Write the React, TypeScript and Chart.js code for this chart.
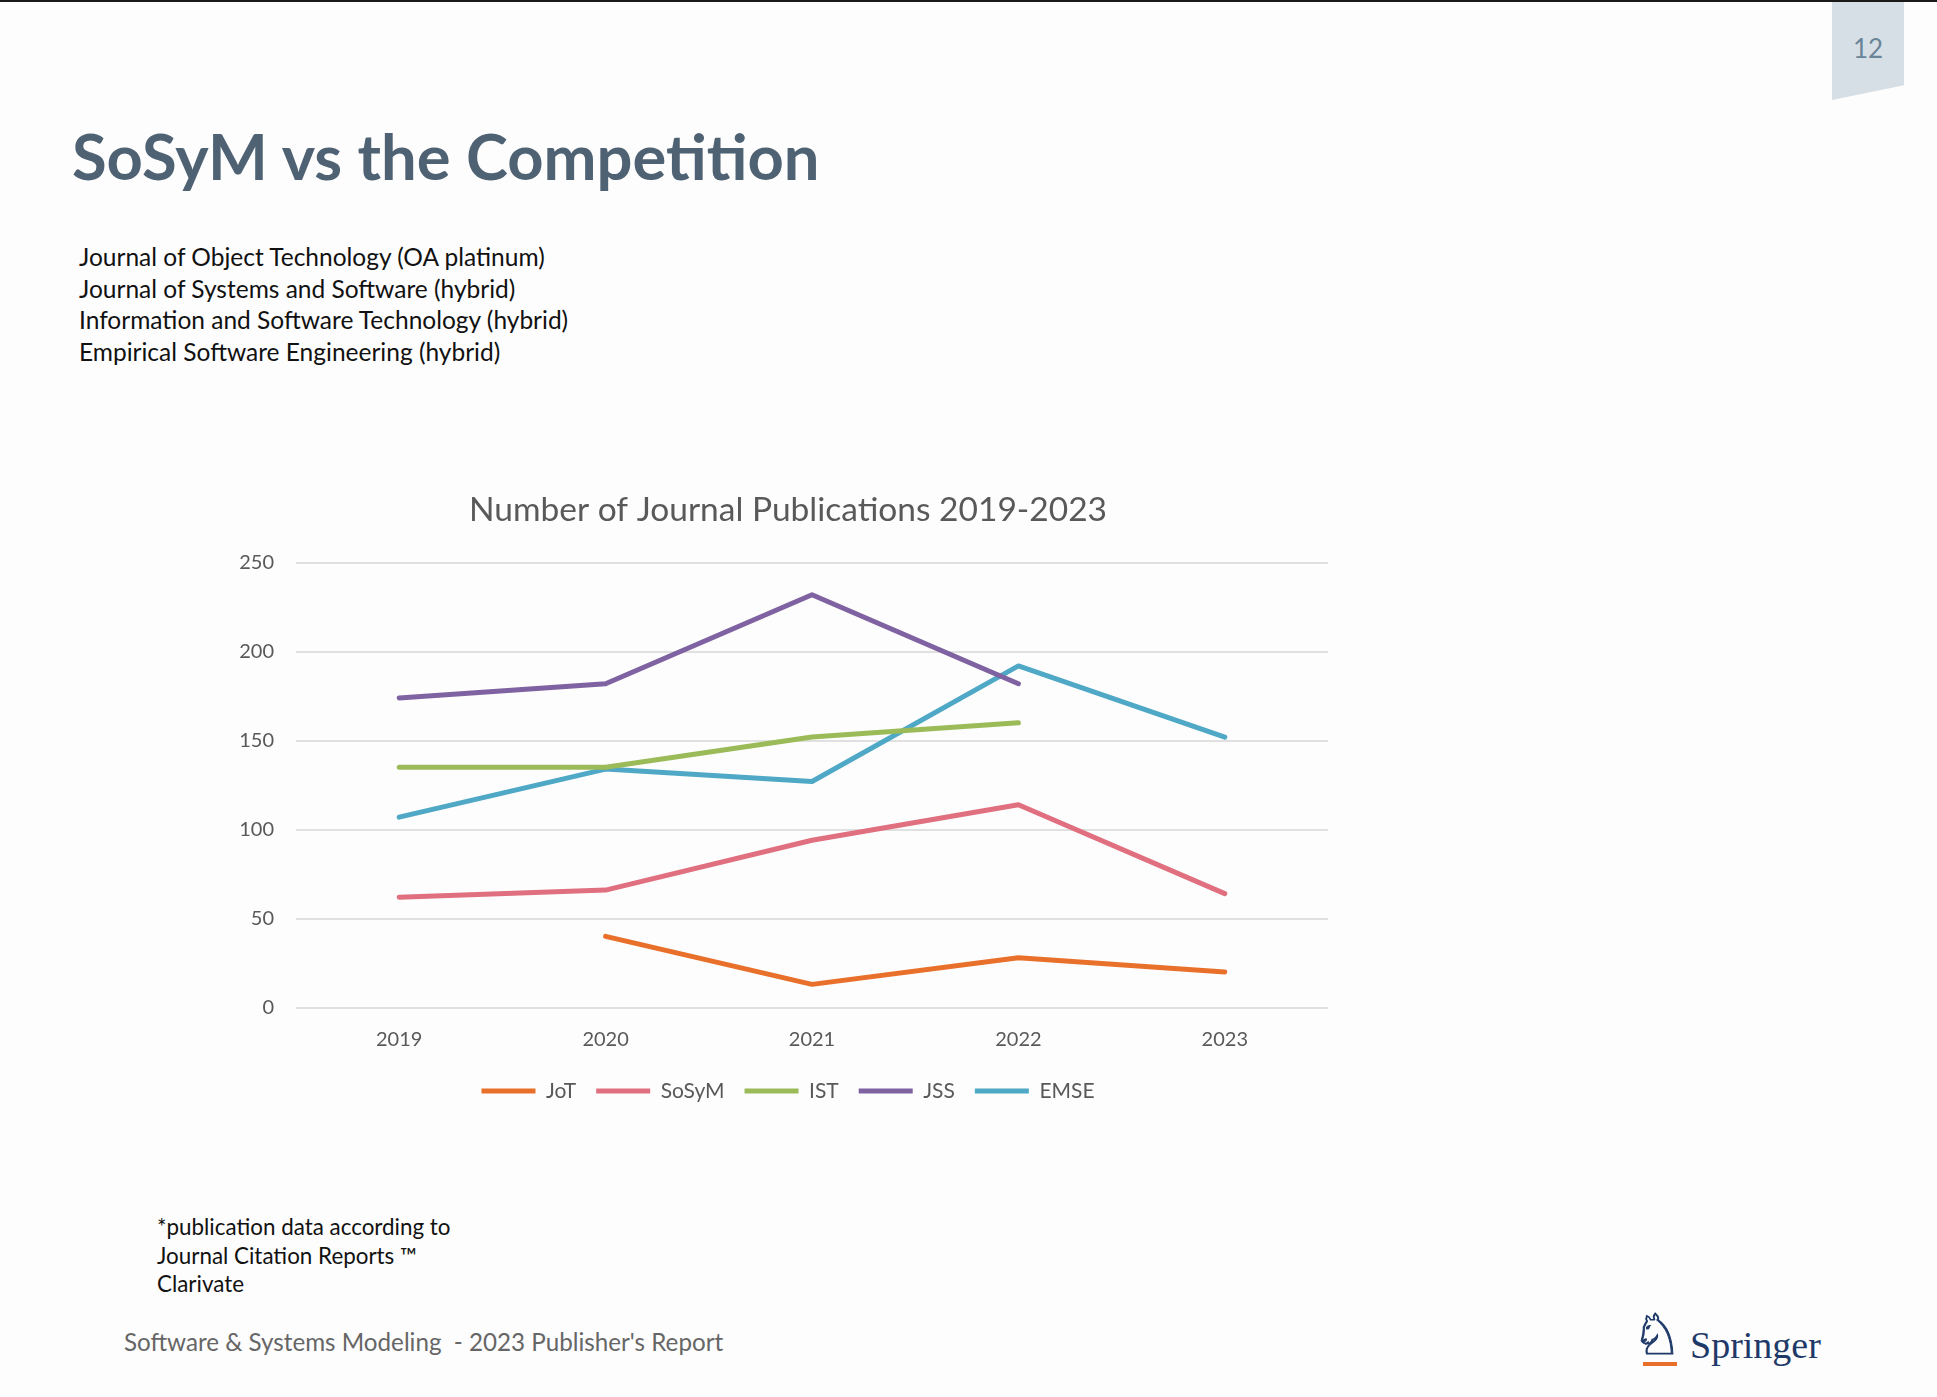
import React, { useEffect, useRef } from 'react';
import { Chart, registerables } from 'chart.js';

Chart.register(...registerables);

const years = ['2019', '2020', '2021', '2022', '2023'];
const seriesNames = ['JoT', 'SoSyM', 'IST', 'JSS', 'EMSE'];
const jotValues = [null, 40, 13, 28, 20];
const sosymValues = [62, 66, 94, 114, 64];
const istValues = [135, 135, 152, 160, null];
const jssValues = [174, 182, 232, 182, null];
const emseValues = [107, 134, 127, 192, 152];
const seriesColors = ['#E8702A', '#E0707F', '#9BBB59', '#7F62A1', '#4FA8C5'];
const yMin = 0;
const yMax = 250;
const yStep = 50;

const chartTitle = 'Number of Journal Publications 2019-2023';
const slideTitle = 'SoSyM vs the Competition';
const journals = [
  'Journal of Object Technology (OA platinum)',
  'Journal of Systems and Software (hybrid)',
  'Information and Software Technology (hybrid)',
  'Empirical Software Engineering (hybrid)',
];
const footnote = ['*publication data according to', 'Journal Citation Reports \u2122', 'Clarivate'];
const footer = "Software & Systems Modeling  - 2023 Publisher's Report";
const pageNumber = '12';

const FONT = 'Lato, "Open Sans", sans-serif';

function LineChart() {
  const ref = useRef<HTMLCanvasElement | null>(null);
  useEffect(() => {
    if (!ref.current) return;
    const allValues = [jotValues, sosymValues, istValues, jssValues, emseValues];
    const chart = new Chart(ref.current, {
      type: 'line',
      data: {
        labels: years,
        datasets: seriesNames.map((name, i) => ({
          label: name,
          data: allValues[i],
          borderColor: seriesColors[i],
          backgroundColor: seriesColors[i],
          borderWidth: 5,
          borderCapStyle: 'round',
          borderJoinStyle: 'round',
          pointRadius: 0,
          pointHoverRadius: 0,
          tension: 0,
          spanGaps: false,
          fill: false,
          yAxisID: 'y',
        })),
      },
      options: {
        animation: false,
        responsive: false,
        devicePixelRatio: 1,
        layout: { padding: { top: 20, bottom: 18.5, left: 0, right: 0 } },
        font: { family: FONT },
        plugins: {
          tooltip: { enabled: false },
          title: {
            display: true,
            text: chartTitle,
            color: '#595959',
            font: { family: FONT, size: 33.5, weight: 'normal' },
            padding: { top: 0, bottom: 32.5 },
          },
          legend: {
            position: 'bottom',
            labels: {
              usePointStyle: true,
              pointStyle: 'line',
              pointStyleWidth: 54,
              boxHeight: 21,
              padding: 20,
              color: '#595959',
              font: { family: FONT, size: 21 },
            },
          },
        },
        scales: {
          x: {
            offset: true,
            grid: { display: false, drawTicks: false },
            border: { display: false },
            ticks: { color: '#595959', font: { family: FONT, size: 20 }, padding: 20 },
            afterFit: (s: any) => { s.height = 53; },
          },
          y: {
            position: 'left',
            min: yMin,
            max: yMax,
            ticks: { stepSize: yStep, color: '#595959', font: { family: FONT, size: 20 }, padding: 22 },
            grid: { color: '#E0E0E0', lineWidth: 2, drawTicks: false },
            border: { display: false },
            afterFit: (s: any) => { s.width = 96; },
          },
          yRight: {
            position: 'right',
            display: true,
            ticks: { display: false },
            grid: { display: false, drawTicks: false },
            border: { display: false },
            afterFit: (s: any) => { s.width = 48; },
          },
        },
      } as any,
    });
    return () => chart.destroy();
  }, []);
  return (
    <canvas
      ref={ref}
      width={1176}
      height={660}
      style={{ position: 'absolute', left: 200, top: 470, width: 1176, height: 660 }}
    />
  );
}

export default function App() {
  useEffect(() => {
    document.body.style.margin = '0';
  }, []);
  return (
    <div
      style={{
        position: 'fixed',
        left: 0,
        top: 0,
        width: 1937,
        height: 1397,
        background: '#FDFDFD',
        overflow: 'hidden',
        fontFamily: FONT,
      }}
    >
      <div style={{ position: 'absolute', left: 0, top: 0, width: 1937, height: 2, background: '#1a1a1a' }} />
      <div
        style={{
          position: 'absolute',
          left: 1832,
          top: 2,
          width: 72,
          height: 98,
          background: '#D6DFE5',
          clipPath: 'polygon(0 0, 100% 0, 100% 85%, 0 100%)',
        }}
      />
      <div
        style={{
          position: 'absolute',
          left: 1832,
          top: 30,
          width: 72,
          textAlign: 'center',
          fontSize: 26,
          lineHeight: '36px',
          color: '#6A8498',
        }}
      >
        {pageNumber}
      </div>
      <div
        style={{
          position: 'absolute',
          left: 72,
          top: 118,
          fontSize: 63.3,
          fontWeight: 700,
          lineHeight: 1.2,
          color: '#4F6273',
          whiteSpace: 'nowrap',
        }}
      >
        {slideTitle}
      </div>
      <div style={{ position: 'absolute', left: 79, top: 241, fontSize: 24.5, lineHeight: '31.5px', color: '#111' }}>
        {journals.map((j) => (
          <div key={j} style={{ whiteSpace: 'nowrap' }}>{j}</div>
        ))}
      </div>
      <LineChart />
      <div style={{ position: 'absolute', left: 157, top: 1213, fontSize: 22.4, lineHeight: '28.5px', color: '#111' }}>
        {footnote.map((f) => (
          <div key={f} style={{ whiteSpace: 'nowrap' }}>{f}</div>
        ))}
      </div>
      <div
        style={{
          position: 'absolute',
          left: 124,
          top: 1327,
          fontSize: 24.2,
          lineHeight: 1.2,
          color: '#666',
          whiteSpace: 'pre',
        }}
      >
        {footer}
      </div>
      <div
        style={{
          position: 'absolute',
          left: 1632,
          top: 1304,
          fontSize: 56,
          lineHeight: 1.1,
          color: '#1F3A68',
          fontFamily: '"DejaVu Sans", sans-serif',
          WebkitTextStroke: '1px #1F3A68',
        }}
      >
        {'\u2658'}
      </div>
      <div style={{ position: 'absolute', left: 1643, top: 1362, width: 34, height: 4, background: '#E8702A' }} />
      <div
        style={{
          position: 'absolute',
          left: 1690,
          top: 1324,
          fontSize: 38,
          lineHeight: 1.15,
          color: '#1F3A68',
          fontFamily: '"Liberation Serif", serif',
          whiteSpace: 'nowrap',
        }}
      >
        Springer
      </div>
    </div>
  );
}
